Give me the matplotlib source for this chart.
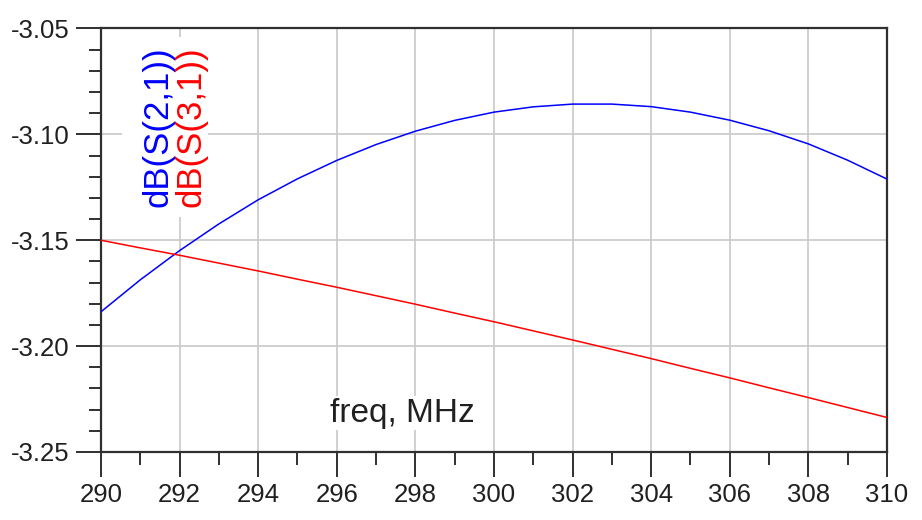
import numpy as np
import matplotlib
matplotlib.use("Agg")
import matplotlib.pyplot as plt
from matplotlib.patches import Rectangle
from matplotlib.ticker import MultipleLocator, FixedLocator, FixedFormatter

# sweep points, MHz
freq = [290, 291, 292, 293, 294, 295, 296, 297, 298, 299, 300,
        301, 302, 303, 304, 305, 306, 307, 308, 309, 310]

# dB(S(2,1))
s21_db = [-3.1838, -3.1687, -3.1549, -3.1423, -3.1309, -3.1210, -3.1123,
          -3.1048, -3.0985, -3.0934, -3.0895, -3.0870, -3.0857, -3.0857,
          -3.0869, -3.0895, -3.0933, -3.0983, -3.1045, -3.1122, -3.1211]

# dB(S(3,1))
s31_db = [-3.1500, -3.1536, -3.1571, -3.1608, -3.1645, -3.1684, -3.1722,
          -3.1762, -3.1802, -3.1844, -3.1885, -3.1928, -3.1971, -3.2015,
          -3.2059, -3.2105, -3.2150, -3.2197, -3.2243, -3.2290, -3.2337]

x_ticks = [290, 292, 294, 296, 298, 300, 302, 304, 306, 308, 310]
y_ticks = [-3.25, -3.20, -3.15, -3.10, -3.05]
y_labels = ["-3.25", "-3.20", "-3.15", "-3.10", "-3.05"]

plt.rcParams['font.family'] = ['Liberation Sans', 'DejaVu Sans']

fig = plt.figure(figsize=(9.22, 5.2), dpi=100)
ax = fig.add_axes([0.1095, 0.1308, 0.8525, 0.8144])

ax.plot(freq, s21_db, color='#0000ff', lw=1.1, zorder=3)
ax.plot(freq, s31_db, color='#ff0000', lw=1.1, zorder=3)

ax.set_xlim(290, 310)
ax.set_ylim(-3.25, -3.05)

ax.xaxis.set_major_locator(FixedLocator(x_ticks))
ax.xaxis.set_minor_locator(MultipleLocator(1))
ax.yaxis.set_major_locator(FixedLocator(y_ticks))
ax.yaxis.set_major_formatter(FixedFormatter(y_labels))
ax.yaxis.set_minor_locator(MultipleLocator(0.01))

ax.tick_params(which='major', length=18, width=1.3, color='#202020',
               labelsize=18.5, labelcolor='#202020', pad=4.5)
ax.tick_params(which='minor', length=9, width=1.3, color='#202020')
ax.tick_params(top=False, right=False, which='both')

for side in ['left', 'bottom', 'top', 'right']:
    ax.spines[side].set_linewidth(1.6)
    ax.spines[side].set_color('#303030')

ax.set_axisbelow(True)
ax.grid(True, which='major', color='#c8c8c8', lw=1.2)

# white panel behind the trace names
ax.add_patch(Rectangle((290.53, -3.1391), 2.19, 0.0851, facecolor='white',
                       edgecolor='none', zorder=1))
ax.text(291.45, -3.0963, "dB(S(2,1))", rotation=90, color='#0000ff',
        fontsize=25, ha='center', va='center', zorder=2)
ax.text(292.30, -3.0963, "dB(S(3,1))", rotation=90, color='#ff0000',
        fontsize=25, ha='center', va='center', zorder=2)

ax.text(297.68, -3.2317, "freq, MHz", color='#202020', fontsize=24,
        ha='center', va='center', zorder=2,
        bbox=dict(facecolor='white', edgecolor='none', pad=1))

fig.savefig('out.png', dpi=100)
